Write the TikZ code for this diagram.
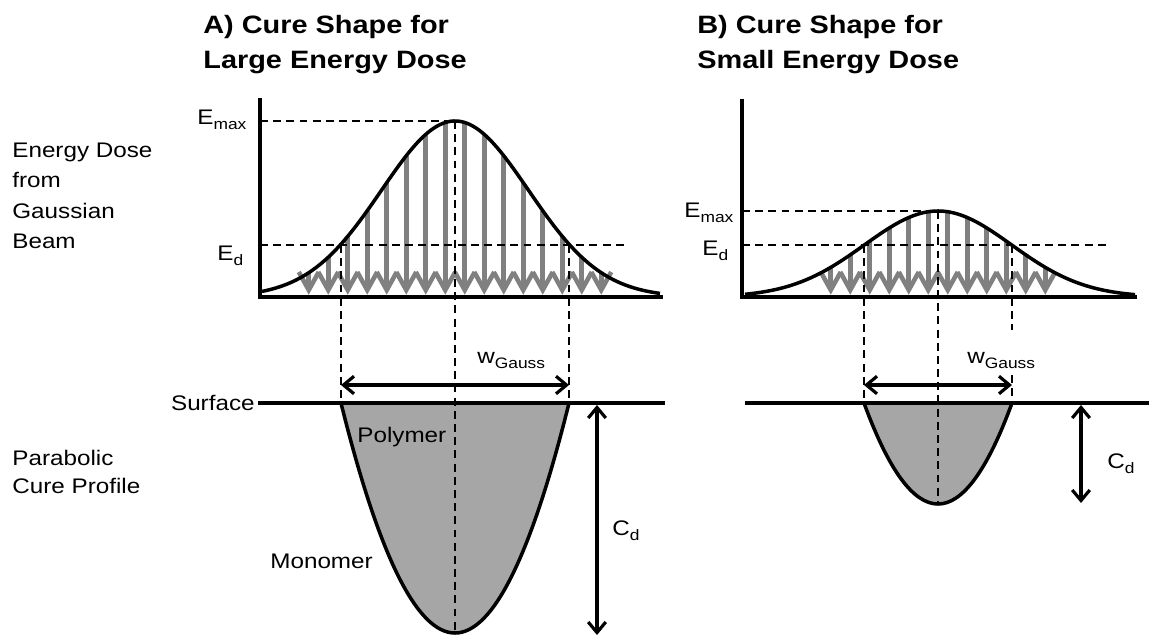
\documentclass[tikz,border=0pt]{standalone}
\usepackage{fontspec}
\setmainfont[FakeStretch=1.15]{Liberation Sans}
\usetikzlibrary{arrows.meta}
\newcommand\lowsub[1]{\raisebox{-3.4pt}{\fontsize{8.6}{10}\selectfont #1}}
\definecolor{arrgray}{HTML}{808080}
\definecolor{cfill}{HTML}{A6A6A6}
\begin{document}
\begin{tikzpicture}[x=0.02cm,y=-0.02cm,
  declare function={gA(\x)=297-176*exp(-0.5*((\x-455)/73.5)*((\x-455)/73.5));
                    gB(\x)=297-86*exp(-0.5*((\x-938)/73.5)*((\x-938)/73.5));},
  txt/.style={font=\fontsize{12}{14}\selectfont, inner sep=0pt},
  ttl/.style={font=\fontsize{14.3}{17}\selectfont\bfseries, inner sep=0pt},
  axis/.style={line width=2pt},
  curve/.style={line width=2pt},
  guide/.style={line width=0.9pt, dash pattern=on 4.5pt off 3pt},
  beam/.style={draw=arrgray, line width=2.6pt},
  dim/.style={line width=1.8pt, {Straight Barb[length=6pt,width=10pt]}-{Straight Barb[length=6pt,width=10pt]}},
  surf/.style={line width=2.8pt},
  prof/.style={fill=cfill, line width=2pt},
]
\useasboundingbox (0,0) rectangle (1149,637);

% ---------- titles and side labels ----------
\node[ttl, anchor=base west] (tA1) at (203,33) {A) Cure Shape for};
\node[ttl, anchor=base west] (tA2) at (203,68) {Large Energy Dose};
\node[ttl, anchor=base west] (tB1) at (697,33) {B) Cure Shape for};
\node[ttl, anchor=base west] (tB2) at (697,68) {Small Energy Dose};
\node[txt, anchor=base west] (l1) at (12,157) {Energy Dose};
\node[txt, anchor=base west] (l2) at (12,187) {from};
\node[txt, anchor=base west] (l3) at (12,218) {Gaussian};
\node[txt, anchor=base west] (l4) at (12,248) {Beam};
\node[txt, anchor=base west] (l5) at (12,465) {Parabolic};
\node[txt, anchor=base west] (l6) at (12,493) {Cure Profile};

% ---------- Panel A: Gaussian ----------
\coordinate (A-top) at (260,98);
\coordinate (A-o) at (260,297);
\coordinate (A-end) at (663,297);
\foreach \k in {-7.5,-6.5,...,7.5}{
  \pgfmathsetmacro\xx{455+19.5*\k}
  \pgfmathsetmacro\yy{gA(\xx)}
  \draw[beam] (\xx,\yy) -- (\xx,290);
  \draw[beam, line join=miter] (\xx-10,272) -- (\xx,290) -- (\xx+10,272);
}
\draw[curve] plot[domain=262:660, samples=140] (\x,{gA(\x)});
\coordinate (A-pk) at (455,121);
\coordinate (A-edL) at (341,245);
\coordinate (A-edR) at (569,245);
\draw[guide] (260,121) -- (A-pk);
\draw[guide] (260,245) -- (628,245);
\draw[guide] (A-edL) -- (341,403);
\draw[guide] (A-edR) -- (569,403);
\node[txt, anchor=base west] (A-emax) at (197,124) {E\lowsub{max}};
\node[txt, anchor=base west] (A-ed) at (217,260) {E\lowsub{d}};

% ---------- Panel A: cure profile ----------
\coordinate (A-sl) at (341,403);
\coordinate (A-sr) at (569,403);
\coordinate (A-bot) at (455,633);
\filldraw[prof] (A-sl) .. controls (417,709.67) and (493,709.67) .. (A-sr);
\draw[guide] (A-pk) -- (A-bot);
\draw[axis] (A-top) -- (A-o) -- (A-end);
\coordinate (A-wl) at (341,385);
\coordinate (A-wr) at (569,385);
\draw[dim] (A-wl) -- (A-wr);
\node[txt, anchor=base west] (A-w) at (477,363) {w\lowsub{Gauss}};
\draw[surf] (258,403) -- (665,403);
\node[txt, anchor=base east] (surf) at (255,410) {Surface};
\coordinate (A-c1) at (597,405);
\coordinate (A-c2) at (597,635);
\draw[dim] (A-c1) -- (A-c2);
\node[txt, anchor=base west] (A-cd) at (612,535) {C\lowsub{d}};
\node[txt, anchor=base west] (poly) at (357,442) {Polymer};
\node[txt, anchor=base west] (mono) at (270,568) {Monomer};

% ---------- Panel B: Gaussian ----------
\coordinate (B-top) at (742,99);
\coordinate (B-o) at (742,297);
\coordinate (B-end) at (1137,297);
\foreach \k in {-5.5,-4.5,...,5.5}{
  \pgfmathsetmacro\xx{938+19.5*\k}
  \pgfmathsetmacro\yy{gB(\xx)}
  \draw[beam] (\xx,\yy) -- (\xx,290);
  \draw[beam, line join=miter] (\xx-10,272) -- (\xx,290) -- (\xx+10,272);
}
\draw[curve] plot[domain=745:1135, samples=140] (\x,{gB(\x)});
\coordinate (B-pk) at (938,211);
\coordinate (B-edL) at (864,245);
\coordinate (B-edR) at (1012,245);
\draw[guide] (742,211) -- (B-pk);
\draw[guide] (742,245) -- (1110,245);
\draw[guide] (B-edL) -- (864,403);
\draw[guide] (B-edR) -- (1012,330);
\draw[guide] (1012,375) -- (1012,403);
\node[txt, anchor=base west] (B-emax) at (684,217) {E\lowsub{max}};
\node[txt, anchor=base west] (B-ed) at (702,255) {E\lowsub{d}};

% ---------- Panel B: cure profile ----------
\coordinate (B-sl) at (864,403);
\coordinate (B-sr) at (1012,403);
\coordinate (B-bot) at (938,504);
\filldraw[prof] (B-sl) .. controls (913.33,537.67) and (962.67,537.67) .. (B-sr);
\draw[guide] (B-pk) -- (B-bot);
\draw[axis] (B-top) -- (B-o) -- (B-end);
\coordinate (B-wl) at (864,385);
\coordinate (B-wr) at (1012,385);
\draw[dim] (B-wl) -- (B-wr);
\node[txt, anchor=base west] (B-w) at (967,363) {w\lowsub{Gauss}};
\draw[surf] (745,403) -- (1149,403);
\coordinate (B-c1) at (1081,405);
\coordinate (B-c2) at (1081,503);
\draw[dim] (B-c1) -- (B-c2);
\node[txt, anchor=base west] (B-cd) at (1107,468) {C\lowsub{d}};
\end{tikzpicture}
\end{document}
